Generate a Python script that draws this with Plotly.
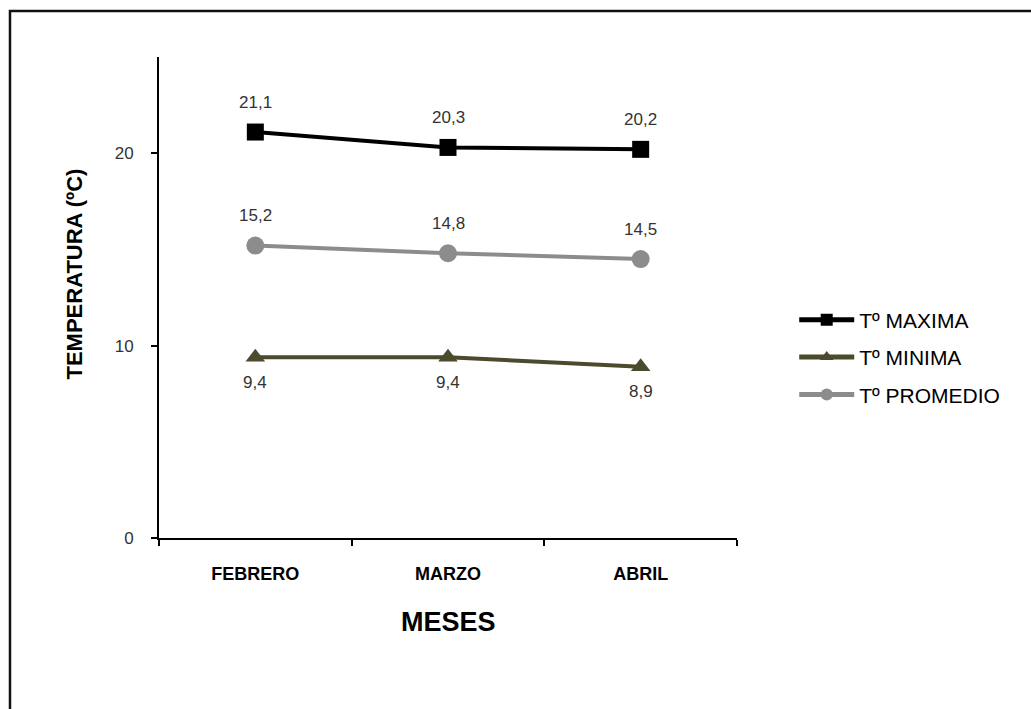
import plotly.graph_objects as go

# Monthly temperatures (ºC)
meses = ["FEBRERO", "MARZO", "ABRIL"]
t_maxima = [21.1, 20.3, 20.2]
t_minima = [9.4, 9.4, 8.9]
t_promedio = [15.2, 14.8, 14.5]

series = [
    ("Tº MAXIMA", t_maxima, "#000000", "square", 17, 30),
    ("Tº MINIMA", t_minima, "#4b4a2d", "triangle-up", 17, -25),
    ("Tº PROMEDIO", t_promedio, "#8c8c8c", "circle", 18, 30),
]

FONT = "Liberation Sans, Arial"

fig = go.Figure()
annotations = []
for i, (name, vals, color, symbol, msize, shift) in enumerate(series):
    fig.add_trace(go.Scatter(
        x=meses, y=vals, name=name, mode="lines+markers",
        line=dict(color=color, width=4),
        marker=dict(symbol=symbol, size=msize, color=color),
        legendgroup=f"g{i}",
    ))
    for m, v in zip(meses, vals):
        annotations.append(dict(
            x=m, y=v, xref="x", yref="y", yshift=shift, showarrow=False,
            text=f"{v:.1f}".replace(".", ","),
            font=dict(family=FONT, size=17, color="#333333"),
        ))

annotations.append(dict(
    x=-0.146, y=0.549, xref="paper", yref="paper", showarrow=False,
    xanchor="center", yanchor="middle",
    text="<b>TEMPERATURA (ºC)</b>", textangle=-90,
    font=dict(family=FONT, size=22, color="#000000"),
))
annotations.append(dict(
    x=0.5, y=-0.175, xref="paper", yref="paper", showarrow=False,
    xanchor="center", yanchor="middle",
    text="<b>MESES</b>",
    font=dict(family=FONT, size=27, color="#000000"),
))

fig.update_layout(
    width=1031, height=709,
    margin=dict(l=159, r=294, t=57, b=171),
    paper_bgcolor="white", plot_bgcolor="white",
    font=dict(family=FONT, color="#000000"),
    showlegend=True,
    legend=dict(
        x=1.099, y=0.376, xanchor="left", yanchor="middle",
        font=dict(size=21, color="#000000"),
        tracegroupgap=7, itemwidth=55, itemsizing="constant",
    ),
    annotations=annotations,
    shapes=[dict(
        type="rect", xref="paper", yref="paper",
        x0=-0.2578, x1=1.6, y0=-0.4, y1=1.0956,
        line=dict(color="#111111", width=2.5),
    )],
)

fig.update_xaxes(
    range=[-0.5, 2.5],
    showgrid=False, showline=True, linecolor="#000000", linewidth=2,
    ticks="outside", ticklen=6, tickwidth=2, tickcolor="#000000",
    tickson="boundaries", ticklabelstandoff=18,
    tickfont=dict(family=FONT, size=18, color="#000000", weight="bold"),
    zeroline=False,
)
fig.update_yaxes(
    range=[0, 25], tickvals=[0, 10, 20], showgrid=False, zeroline=False,
    showline=True, linecolor="#000000", linewidth=2,
    ticks="outside", ticklen=6, tickwidth=2, tickcolor="#000000",
    ticklabelstandoff=14,
    tickfont=dict(family=FONT, size=17, color="#333333"),
)

fig.write_html("out.html")
